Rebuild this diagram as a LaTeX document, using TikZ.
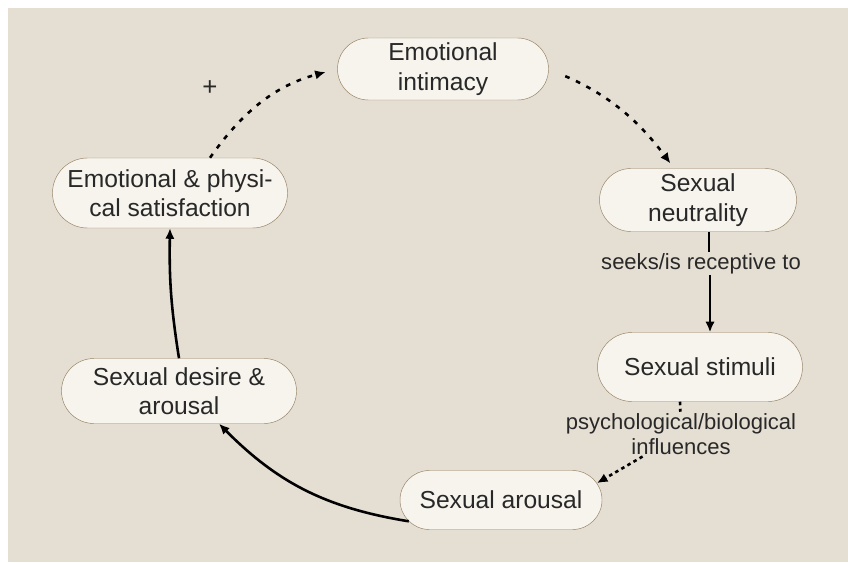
\documentclass[tikz,border=0pt]{standalone}
\usepackage{fontspec}
\setmainfont{Liberation Sans}
\usepackage{xcolor}
\usetikzlibrary{positioning,shapes.misc,arrows.meta}
\definecolor{paper}{RGB}{229,222,211}
\definecolor{boxfill}{RGB}{247,244,237}
\definecolor{boxline}{RGB}{150,130,100}
\definecolor{ink}{RGB}{40,40,40}

\begin{document}
\begin{tikzpicture}[x=0.03cm,y=-0.03cm,
        stage/.style={draw=boxline,fill=boxfill,rounded rectangle,align=center,
            text=ink,inner sep=0pt,font=\fontsize{21}{25}\selectfont},
        lbl/.style={text=ink,align=center,inner sep=1pt,font=\fontsize{18.8}{22}\selectfont},
        link/.style={line width=2.2pt,-{Latex[length=9pt,width=8pt]}},
        dlink/.style={link,dash pattern=on 4pt off 6pt}]
    \useasboundingbox (0,0) rectangle (848,562);
    \fill[white] (0,0) rectangle (848,562);
    \fill[paper] (8,8) rectangle (848,562);

    \node (intim) [stage,minimum width=6.33cm,minimum height=1.86cm] at (443,69) {Emotional\\intimacy};
    \node (neutr) [stage,minimum width=5.91cm,minimum height=1.89cm] at (698,200) {Sexual\\neutrality};
    \node (stimuli) [stage,minimum width=6.15cm,minimum height=2.07cm] at (700,367) {Sexual stimuli};
    \node (arousal) [stage,minimum width=6.06cm,minimum height=1.77cm] at (501,500) {Sexual arousal};
    \node (desire) [stage,minimum width=7.05cm,minimum height=1.95cm] at (179,391) {Sexual desire \&\\arousal};
    \node (satisf) [stage,minimum width=7.05cm,minimum height=2.1cm] at (170,193) {Emotional \& physi-\\cal satisfaction};

    \node (seeks) [lbl,below=.6cm of neutr,xshift=.09cm] {seeks/is receptive to};
    \node (infl) [lbl,below=.3cm of stimuli,xshift=-.57cm] {psychological/biological\\influences};
    \node (plus) [text=ink,font=\fontsize{22}{24}\selectfont] at (210,88) {+};

    \draw[dlink,shorten <=.54cm,shorten >=.18cm] (intim.east) to[bend left=15] ([xshift=-.72cm]neutr.north);
    \draw[line width=2.2pt] (neutr.south -| 709,0) -- (seeks.north -| 709,0);
    \draw[link] (seeks.south -| 710,0) -- (stimuli.north -| 710,0);
    \draw[dlink,dash pattern=on 3pt off 3pt,-] ([xshift=-.6cm]stimuli.south) -- (infl);
    \draw[dlink,dash pattern=on 3pt off 3pt] (infl) -- (arousal.10);
    \draw[link] (arousal.193) to[bend left=18] ([xshift=1.2cm]desire.south);
    \draw[link] (desire.north) to[bend left=5] (satisf.south);
    \draw[dlink,shorten >=.36cm] ([xshift=1.2cm]satisf.north) to[bend left=20] (intim.west);
\end{tikzpicture}
\end{document}
